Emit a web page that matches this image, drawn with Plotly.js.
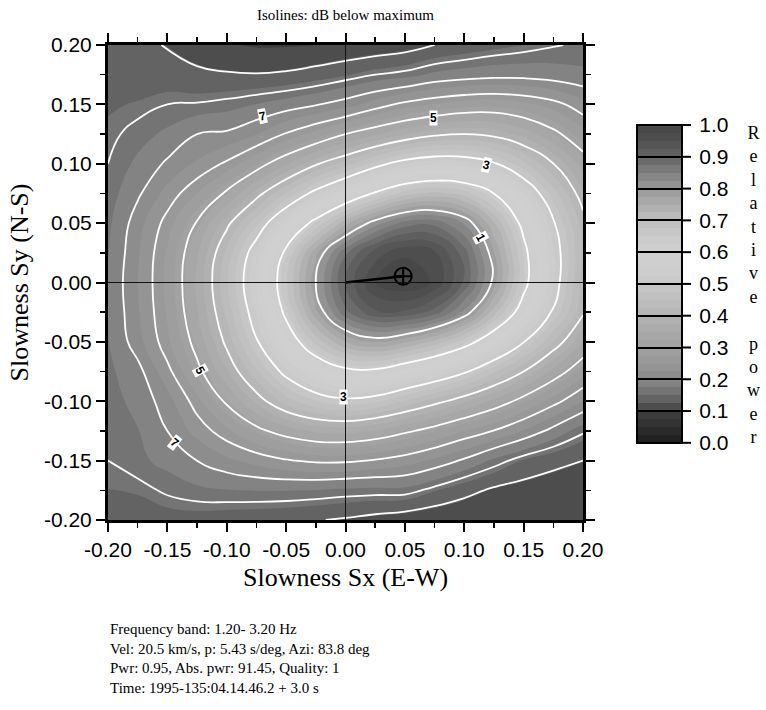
<!DOCTYPE html>
<html>
<head>
<meta charset="utf-8">
<script src="https://cdn.plot.ly/plotly-3.0.1.min.js"></script>
<style>
html,body{margin:0;padding:0;background:#ffffff;}
#chart{width:766px;height:710px;}
</style>
</head>
<body>
<div id="chart"></div>
<script>
// ---- data ----
const slownessX = [-0.2,-0.175,-0.15,-0.125,-0.1,-0.075,-0.05,-0.025,0,0.025,0.05,0.075,0.1,0.125,0.15,0.175,0.2];
const slownessY = [-0.2,-0.175,-0.15,-0.125,-0.1,-0.075,-0.05,-0.025,0,0.025,0.05,0.075,0.1,0.125,0.15,0.175,0.2];
// dB below maximum, one row per slownessY value (bottom row first)
const dbBelowMax = [
  [8.4,8.45,8.5,8.5,8.6,8.7,8.8,8.95,9.1,9.3,9.5,9.7,9.85,9.95,10.0,10.0,10.0],
  [8.25,8.2,7.9,7.7,7.6,7.55,7.55,7.6,7.7,7.75,7.75,8.2,8.7,9.15,9.4,9.6,9.7],
  [8.0,7.7,7.4,7.0,6.6,6.3,6.05,5.9,5.9,6.05,6.25,6.6,7.1,7.7,8.3,8.7,9.0],
  [7.9,7.6,7.0,6.3,5.7,5.15,4.75,4.5,4.45,4.6,4.9,5.21,5.6,6.02,6.52,7.2,7.9],
  [7.8,7.4,6.7,5.75,4.9,4.2,3.6,3.25,3.1,3.2,3.5,3.86,4.22,4.65,5.2,5.8,6.49],
  [7.7,7.2,6.15,5.15,4.3,3.52,2.86,2.37,2.1,2.08,2.3,2.56,2.93,3.42,4.0,4.67,5.41],
  [7.6,6.7,5.7,4.8,3.9,3.04,2.28,1.65,1.25,1.1,1.22,1.45,1.8,2.33,2.98,3.73,4.54],
  [7.55,6.55,5.55,4.58,3.65,2.76,1.9,1.15,0.61,0.36,0.36,0.51,0.87,1.47,2.22,3.05,3.94],
  [7.5,6.5,5.5,4.5,3.52,2.6,1.74,1.0,0.44,0.11,0.01,0.13,0.48,1.05,1.86,2.77,3.85],
  [7.6,6.55,5.55,4.6,3.65,2.75,1.9,1.15,0.6,0.28,0.13,0.2,0.52,1.1,1.88,2.76,3.75],
  [7.7,6.7,5.8,4.95,4.1,3.3,2.5,1.85,1.3,0.9,0.65,0.62,0.85,1.38,2.12,2.95,3.85],
  [7.85,7.1,6.3,5.6,4.9,4.15,3.45,2.85,2.35,1.95,1.62,1.5,1.62,2.0,2.6,3.35,4.2],
  [8.0,7.45,6.9,6.4,5.9,5.25,4.6,4.05,3.6,3.15,2.8,2.65,2.7,2.95,3.4,3.99,4.7],
  [8.15,7.8,7.45,7.0,6.9,6.5,5.95,5.45,5.0,4.62,4.3,4.08,4.0,4.1,4.38,4.84,5.44],
  [8.3,8.2,8.0,7.95,7.8,7.55,7.3,7.05,6.7,6.25,5.85,5.6,5.4,5.35,5.5,5.8,6.3],
  [8.5,8.55,8.6,8.8,8.9,8.95,8.85,8.6,8.3,8.0,7.8,7.45,7.3,7.2,7.2,7.3,7.45],
  [8.5,8.8,9.05,9.5,9.9,10.1,10.1,10.0,9.8,9.6,9.4,9.0,8.7,8.45,8.25,8.05,7.9]
];
const axisTicks = [-0.2,-0.15,-0.1,-0.05,0,0.05,0.1,0.15,0.2];
const powerTicks = [0,0.1,0.2,0.3,0.4,0.5,0.6,0.7,0.8,0.9,1.0];
const isolineLabelText = ['7','5','3','1','5','3','7'];
const isolineLabelSx = [-0.0695,0.0737,0.119,0.114,-0.1225,-0.002,-0.1436];
const isolineLabelSy = [0.1402,0.1385,0.099,0.0375,-0.0737,-0.0964,-0.1352];
const isolineLabelAngle = [-12,0,15,62,62,0,38];
// beam result
const freqLow = 1.20, freqHigh = 3.20;
const velocity = 20.5;        // km/s
const slownessSdeg = 5.43;    // s/deg
const azimuthDeg = 83.8;      // deg
const beamPower = 0.95, absPower = 91.45, quality = 1;
const timeLabel = '1995-135:04.14.46.2', windowLen = 3.0;

// ---- derived ----
const relPower = dbBelowMax.map(r => r.map(d => Math.pow(10, -d / 10)));
const sKm = slownessSdeg / 111.195;
const az = azimuthDeg * Math.PI / 180;
const maxSx = sKm * Math.sin(az);
const maxSy = sKm * Math.cos(az);

const grayScale = [
  [0.0,'#1c1c1c'],[0.1,'#404040'],[0.125,'#5a5a5a'],[0.15,'#6c6c6c'],[0.175,'#7c7c7c'],
  [0.2,'#8a8a8a'],[0.25,'#979797'],[0.3,'#a0a0a0'],[0.35,'#a9a9a9'],[0.4,'#b4b4b4'],
  [0.45,'#bfbfbf'],[0.5,'#c8c8c8'],[0.55,'#cecece'],[0.6,'#d0d0d0'],[0.65,'#cacaca'],
  [0.7,'#bebebe'],[0.75,'#adadad'],[0.8,'#999999'],[0.85,'#808080'],[0.9,'#646464'],
  [0.95,'#515151'],[1.0,'#454545']
];

const sans = 'Liberation Sans, Arial, Helvetica, sans-serif';
const serif = 'Liberation Serif, Times New Roman, serif';

// colorbar placement (paper fractions of the 475 px plot box)
const cbX = 1.1137, cbThick = 45, cbY = 0.497, cbLen = 0.669;
const plotW = 475;
const cbRight = cbX + cbThick / plotW;
const cbBottom = cbY - cbLen / 2;

const traces = [
  {
    type:'contour', x:slownessX, y:slownessY, z:relPower,
    colorscale:grayScale, zauto:false, zmin:0, zmax:1,
    autocontour:false,
    contours:{start:0, end:1, size:0.025, coloring:'fill', showlines:false},
    line:{width:0, smoothing:1.3},
    hoverinfo:'skip',
    colorbar:{
      x:cbX, xanchor:'left', xpad:0,
      y:cbY, yanchor:'middle', ypad:0,
      len:cbLen, lenmode:'fraction',
      thickness:cbThick, thicknessmode:'pixels',
      outlinewidth:2, outlinecolor:'black',
      tickmode:'array', tickvals:powerTicks,
      ticktext:powerTicks.map(v => '\u00a0\u00a0' + v.toFixed(1)),
      ticks:'inside', ticklen:cbThick, tickwidth:2, tickcolor:'black',
      tickfont:{family:sans, size:21, color:'black'}
    }
  },
  {
    type:'contour', x:slownessX, y:slownessY, z:dbBelowMax,
    autocontour:false,
    contours:{start:1, end:9, size:1, coloring:'none', showlines:true},
    line:{color:'white', width:1.8, smoothing:1.3},
    showscale:false, hoverinfo:'skip'
  },
  {
    type:'scatter', mode:'lines', x:[0, maxSx], y:[0, maxSy],
    line:{color:'black', width:2.5}, hoverinfo:'skip', showlegend:false
  },
  {
    type:'scatter', mode:'markers', x:[maxSx], y:[maxSy],
    marker:{symbol:'circle-cross-open', size:17, color:'black', line:{width:2, color:'black'}},
    hoverinfo:'skip', showlegend:false
  }
];

const annotations = isolineLabelText.map((t, i) => ({
  x:isolineLabelSx[i], y:isolineLabelSy[i], xref:'x', yref:'y',
  text:'<b>' + t + '</b>', showarrow:false, textangle:isolineLabelAngle[i],
  font:{family:sans, size:12, color:'black'}, bgcolor:'white', borderpad:0
}));

annotations.push({
  xref:'paper', yref:'paper', x:1.358, y:0.495, xanchor:'center', yanchor:'middle',
  showarrow:false, align:'center',
  text:'R<br>e<br>l<br>a<br>t<br>i<br>v<br>e<br>\u00a0<br>p<br>o<br>w<br>e<br>r',
  font:{family:serif, size:18, color:'black'}
});

const infoLines = [
  'Frequency band: ' + freqLow.toFixed(2) + '- ' + freqHigh.toFixed(2) + ' Hz',
  'Vel: ' + velocity.toFixed(1) + ' km/s, p: ' + slownessSdeg.toFixed(2) + ' s/deg, Azi: ' + azimuthDeg.toFixed(1) + ' deg',
  'Pwr: ' + beamPower.toFixed(2) + ', Abs. pwr: ' + absPower.toFixed(2) + ', Quality: ' + quality,
  'Time: ' + timeLabel + ' + ' + windowLen.toFixed(1) + ' s'
];
annotations.push({
  xref:'paper', yref:'paper', x:0, y:-0.208, xanchor:'left', yanchor:'top',
  showarrow:false, align:'left', text:infoLines.join('<br>'),
  font:{family:serif, size:15, color:'black'}
});

const axisCommon = {
  range:[-0.2, 0.2], tickmode:'array', tickvals:axisTicks,
  ticktext:axisTicks.map(v => v.toFixed(2)),
  ticks:'outside', ticklen:9, tickwidth:2, tickcolor:'black',
  minor:{dtick:0.025, tick0:0, ticks:'outside', ticklen:5, tickwidth:1.5, tickcolor:'black', showgrid:false},
  showline:true, linewidth:3, linecolor:'black', mirror:'ticks',
  showgrid:false, zeroline:false, automargin:false, fixedrange:true,
  tickfont:{family:sans, size:21, color:'black'}
};

// tick stubs of the colour bar that stick out to the right of the bar
const cbStubs = powerTicks.map(v => ({
  type:'line', xref:'paper', yref:'paper',
  x0:cbRight, x1:cbRight + 9 / plotW,
  y0:cbBottom + v * cbLen, y1:cbBottom + v * cbLen,
  line:{color:'black', width:2}
}));

const layout = {
  width:766, height:710,
  margin:{l:108, r:183, t:45, b:190, autoexpand:false},
  paper_bgcolor:'white', plot_bgcolor:'white',
  showlegend:false,
  title:{text:'Isolines: dB below maximum', font:{family:serif, size:15, color:'black'},
         x:0.451, xanchor:'center', xref:'container', y:0.979, yanchor:'middle', yref:'container'},
  xaxis:Object.assign({}, axisCommon, {
    title:{text:'Slowness Sx (E-W)', font:{family:serif, size:26, color:'black'}, standoff:8}
  }),
  yaxis:Object.assign({}, axisCommon, {
    title:{text:'Slowness Sy (N-S)', font:{family:serif, size:26, color:'black'}, standoff:8}
  }),
  shapes:[
    {type:'line', xref:'x', yref:'paper', x0:0, x1:0, y0:0, y1:1, layer:'above', line:{color:'#111', width:1}},
    {type:'line', xref:'paper', yref:'y', x0:0, x1:1, y0:0, y1:0, layer:'above', line:{color:'#111', width:1}}
  ].concat(cbStubs),
  annotations:annotations
};

Plotly.newPlot('chart', traces, layout, {displayModeBar:false, staticPlot:true});
</script>
</body>
</html>
